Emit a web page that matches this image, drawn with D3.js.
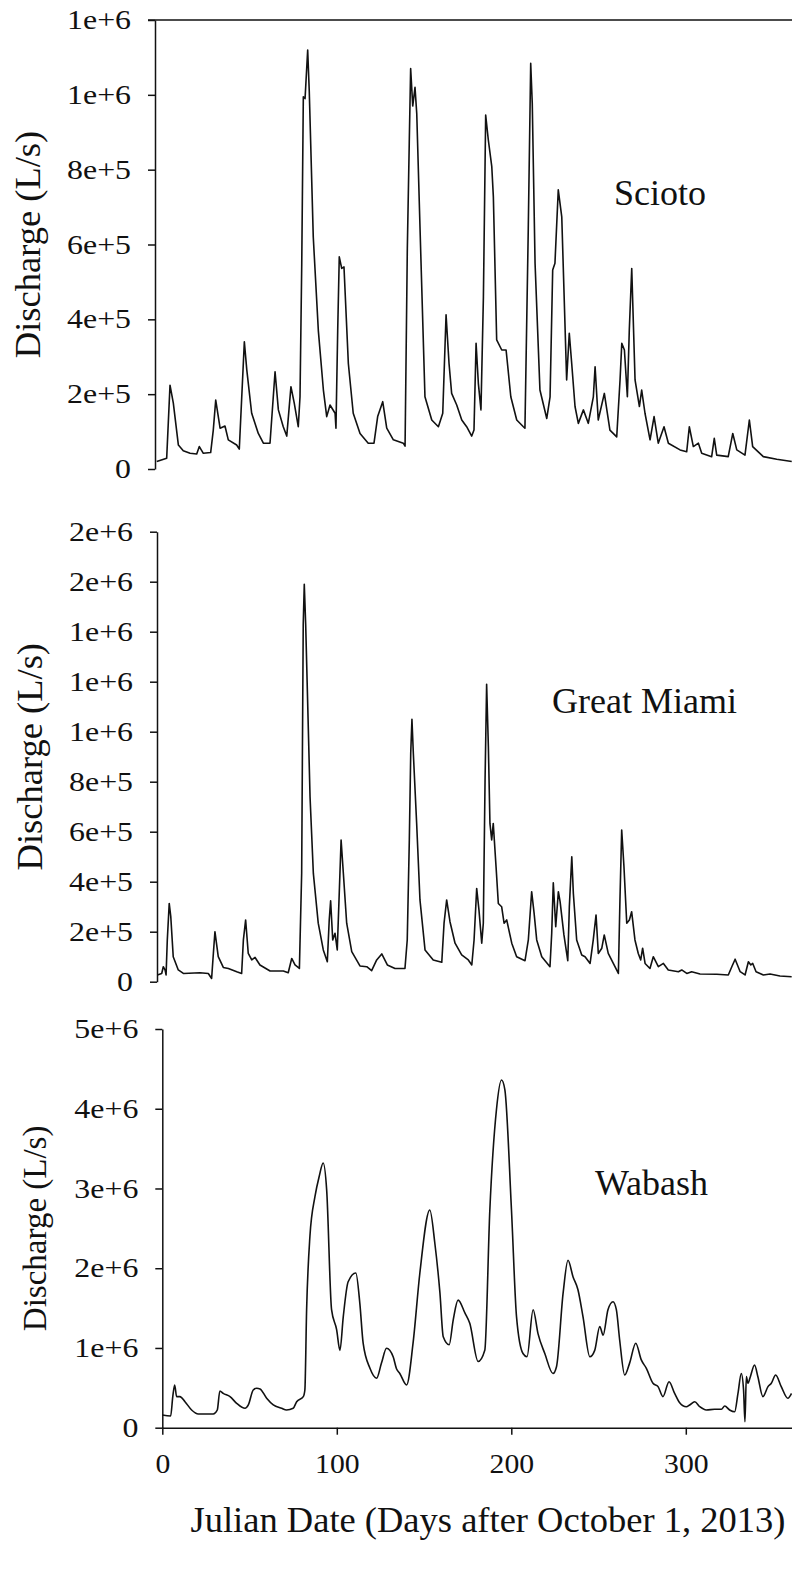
<!DOCTYPE html>
<html>
<head>
<meta charset="utf-8">
<title>River discharge, Oct 2013 - Sep 2014</title>
<script src="https://cdn.jsdelivr.net/npm/d3@7"></script>
<style>
	body { margin: 0; background: #fff; }
	svg { display: block; background: #fff; }
	text { font-family: "Liberation Serif", "Times New Roman", serif; fill: #111; }
	.flow { fill: none; stroke: #111; stroke-width: 1.6px; stroke-linejoin: round; }
	.axis path, .axis line, .frame { stroke: #111; stroke-width: 1.5px; fill: none; }
</style>
</head>
<body>

<svg id="chart" width="792" height="1594"></svg>

<script>
// days after Oct 1 2013 / discharge in L/s

var sciotoDay = [1, 6.7, 8.6, 10.5, 13.4, 16.2, 20.1, 23.9, 25.4, 27.7, 31.9, 33.4, 34.8, 37.3, 40.1, 42,
	46.8, 48.3, 51.2, 52.6, 55.4, 59.2, 62.1, 65.9, 68.8, 70.7, 73.5, 75.5, 77.9, 79.8, 82.1, 83.1,
	84.1, 85, 86, 87.5, 88.4, 90.7, 93.6, 96.5, 98.4, 100.3, 103.2, 103.7, 104.7, 105.6, 107, 108.3,
	110.8, 113.6, 117.5, 122.2, 125.5, 127.6, 130.5, 132.8, 136.6, 142.3, 143.3, 144.6, 145.7, 146.5,
	147.7, 149, 150, 151.9, 154.7, 158.6, 162.4, 164.9, 166.8, 168.5, 170, 172.9, 175.8, 178.6, 181.5,
	182.8, 184, 185.3, 186.8, 188.2, 189.5, 191, 193, 193.9, 195.8, 198.7, 201.2, 203.9, 207.3, 211.1,
	212, 213.9, 215.3, 216.2, 217.8, 220.6, 224.5, 226.4, 227.9, 229.2, 231.1, 233.1, 235.9, 237.4,
	238.8, 240.7, 242.6, 245.5, 248.3, 251.2, 252.2, 254, 257.5, 260.7, 264.6, 266.5, 267.5, 269,
	270.7, 271.8, 273.2, 275.1, 277.6, 278.9, 280.8, 283.7, 286, 288.4, 291.7, 294.2, 300.9, 304.7,
	306.2, 308.5, 311.4, 313.3, 319, 320.5, 321.9, 328.5, 331.1, 333.4, 338.1, 340.6, 342.5, 348.6,
	356.3, 364.9];
var sciotoQ = [20000, 29000, 224000, 176000, 64000, 49000, 42000, 40000, 60000, 42000, 44000, 104000, 184000, 109000, 115000, 78000,
	64000, 53000, 340000, 265000, 149000, 95000, 69000, 69000, 260000, 158000, 113000, 88000, 220000, 176000, 113000, 193000,
	550000, 995000, 990000, 1120000, 1010000, 620000, 370000, 211000, 140000, 171000, 149000, 109000, 370000, 567000, 536000, 540000,
	282000, 149000, 95000, 69000, 69000, 140000, 180000, 109000, 78000, 69000, 61000, 590000, 870000, 1070000,
	970000, 1020000, 950000, 640000, 193000, 131000, 113000, 149000, 412000, 282000, 202000, 171000, 131000, 113000, 88000,
	104000, 336000, 229000, 158000, 460000, 946000, 880000, 808000, 728000, 345000, 318000, 318000, 193000, 131000, 113000,
	109000, 639000, 1084000, 977000, 550000, 211000, 135000, 193000, 532000, 550000, 746000, 674000, 238000, 363000,
	282000, 167000, 122000, 158000, 122000, 193000, 273000, 131000, 202000, 104000, 86000, 238000, 336000, 318000,
	193000, 371000, 536000, 238000, 167000, 211000, 149000, 78000, 140000, 69000, 113000, 69000, 51000, 46000,
	113000, 60000, 69000, 42000, 33000, 82000, 37000, 33000, 95000, 51000, 37000, 131000, 60000, 33000,
	26000, 20000];

var miamiDay = [0.2, 2.7, 3.6, 4.6, 5.2, 5.9, 7, 7.9, 9.3, 12.2, 15.1, 24.6, 29.4, 31.3, 32.3, 33.2, 35.1,
	38, 40.9, 45.7, 48.5, 49.5, 50.8, 52.3, 54.3, 56.2, 59, 64.8, 72.4, 75.2, 77.2, 79.1, 81.6, 82.9,
	83.8, 84.4, 85.2, 86.4, 87.7, 89.6, 92.4, 95.3, 97.6, 98.7, 99.5, 100.7, 102, 103.3, 104.3, 105.5,
	106.8, 108.7, 111.6, 116.3, 120.2, 123, 125.9, 128.8, 132, 136.4, 142.1, 143.4, 144.6, 145.4, 146.1,
	146.9, 148.8, 150.7, 153.6, 158.3, 163.2, 164.5, 166, 167.9, 170.8, 174.6, 178.4, 180.4, 181.7,
	183.2, 184.5, 186.1, 187, 188, 188.9, 189.9, 190.8, 191.8, 192.7, 194.3, 195.6, 197.5, 198.9, 200.4,
	203.3, 206.1, 210.9, 212.8, 214.7, 216.1, 217.6, 220.5, 225.2, 226.2, 227.1, 228.5, 230, 231, 233.2,
	235.4, 236.3, 237.7, 238.6, 240.5, 243.4, 245.3, 248.2, 250, 251.6, 252.9, 254.9, 256.3, 258.6,
	261.5, 264.4, 265.3, 266.3, 267.6, 269.2, 270.7, 272, 273.9, 275.8, 277.2, 278.3, 279.7, 282.5,
	284.4, 287.3, 290.2, 293, 298.8, 300.7, 303.6, 306.4, 311.2, 320.8, 327.4, 329.4, 331.3, 334.2,
	337, 338.9, 340.3, 341.4, 343.3, 347.5, 351.3, 357, 363.7];
var miamiQ = [27000, 33000, 60000, 47000, 27000, 167000, 313000, 260000, 100000, 47000, 33000, 36000, 33000, 13000, 113000, 200000, 100000,
	57000, 53000, 40000, 33000, 167000, 247000, 113000, 87000, 97000, 67000, 43000, 43000, 36000, 93000, 67000, 53000, 433000,
	1430000, 1590000, 1430000, 1100000, 740000, 433000, 234000, 127000, 80000, 247000, 324000, 167000, 194000, 127000, 327000, 567000,
	433000, 234000, 120000, 63000, 60000, 44000, 87000, 111000, 67000, 53000, 53000, 167000, 567000, 913000, 1050000,
	913000, 633000, 327000, 127000, 87000, 78000, 234000, 327000, 240000, 154000, 107000, 87000, 67000, 167000,
	373000, 287000, 154000, 234000, 807000, 1190000, 940000, 633000, 567000, 633000, 460000, 313000, 300000, 234000, 247000,
	154000, 100000, 84000, 167000, 360000, 274000, 167000, 100000, 60000, 194000, 396000, 220000, 360000, 320000, 187000,
	84000, 300000, 500000, 353000, 167000, 107000, 100000, 73000, 167000, 267000, 113000, 134000, 187000, 113000,
	73000, 33000, 327000, 607000, 460000, 234000, 247000, 280000, 167000, 113000, 87000, 134000, 73000, 53000,
	100000, 60000, 73000, 47000, 40000, 47000, 33000, 40000, 31000, 30000, 27000, 60000, 90000, 40000,
	27000, 80000, 67000, 73000, 40000, 27000, 31000, 23000, 20000];

var wabashDay = [0, 4.8, 6, 7.1, 8.2, 10.1, 13, 16.8, 20.6, 29.2, 31.5, 33, 34.9, 38.8, 42.6, 47.4, 49.3,
	52.1, 54.1, 56, 59.8, 63.6, 68.4, 71.2, 75, 77, 80.8, 81.7, 82.7, 84.6, 87.5, 89.9, 92.2, 94.2, 97,
	99.9, 101.8, 103.7, 106.5, 110.9, 113.2, 115.1, 119, 122.8, 125.6, 128.5, 132.3, 134.2, 136.1, 140,
	143.7, 147.6, 153.3, 156.2, 159.1, 161, 164.4, 166.7, 169.5, 173.4, 176.2, 181, 184.8, 187.7, 191.5,
	194.4, 196.3, 200.1, 203, 206.7, 209, 212.5, 215.3, 219.2, 223.9, 225.9, 229.7, 232.5, 235.4, 238.2,
	241.1, 245, 247.8, 250.7, 252.6, 255.4, 258.3, 260.2, 262.1, 265, 267.8, 271.3, 274.5, 277.4, 281.2,
	284.1, 286.9, 290.4, 293.6, 296.5, 300.3, 302.2, 305.1, 308, 311.8, 316.5, 320.4, 322.3, 325.1, 328,
	329.9, 331.8, 333.1, 333.9, 334.7, 335.6, 337, 339.4, 341.3, 344.2, 347.1, 349, 351.5, 354.7, 358.5,
	360.6];
var wabashQ = [160000, 147000, 390000, 536000, 390000, 390000, 326000, 222000, 172000, 172000, 222000, 460000, 430000, 390000, 306000, 243000, 285000,
	473000, 494000, 486000, 369000, 285000, 243000, 222000, 243000, 326000, 390000, 473000, 1480000, 2400000, 2900000, 3150000, 3320000, 2980000, 1480000,
	1230000, 970000, 1390000, 1830000, 1940000, 1560000, 1060000, 745000, 620000, 810000, 996000, 890000, 740000, 680000, 536000,
	1060000, 1940000, 2730000, 2310000, 1690000, 1140000, 1040000, 1350000, 1600000, 1440000, 1310000, 830000, 970000, 2730000, 3990000,
	4360000, 4240000, 2730000, 1390000, 930000, 890000, 1480000, 1180000, 930000, 680000, 765000, 1690000, 2100000, 1890000, 1730000,
	1390000, 890000, 970000, 1270000, 1160000, 1480000, 1580000, 1480000, 1100000, 660000, 810000, 1060000, 850000, 745000, 557000,
	515000, 390000, 577000, 430000, 314000, 263000, 285000, 326000, 263000, 222000, 231000, 231000, 272000, 222000, 200000,
	430000, 680000, 473000, 75000, 640000, 557000, 640000, 787000, 640000, 390000, 515000, 557000, 660000, 515000, 369000,
	430000];

var sciotoTicks = [0, 200000, 400000, 600000, 800000, 1000000, 1200000];
var miamiTicks = [0, 200000, 400000, 600000, 800000, 1000000, 1200000, 1400000, 1600000, 1800000];
var wabashTicks = [0, 1000000, 2000000, 3000000, 4000000, 5000000];
var dayTicks = [0, 100, 200, 300];

var rivers = ['Scioto', 'Great Miami', 'Wabash'];

var W = 792, H = 1594,
	pxPerDay = 1.745,
	tickFont = 27,
	tickStretch = 1.18;

// the Wabash trace is a smooth daily series in the original, the other two are spiky
var panels = [
	{name: rivers[0], day: sciotoDay, q: sciotoQ, ticks: sciotoTicks, curve: d3.curveLinear,
		left: 155, top: 20, bottom: 469, nameX: 614, nameY: 205, titleX: 40, titleSize: 36.5, frame: true},
	{name: rivers[1], day: miamiDay, q: miamiQ, ticks: miamiTicks, curve: d3.curveLinear,
		left: 157, top: 531.7, bottom: 981.7, nameX: 552, nameY: 713, titleX: 42, titleSize: 36.5},
	{name: rivers[2], day: wabashDay, q: wabashQ, ticks: wabashTicks, curve: d3.curveMonotoneX,
		left: 162.3, top: 1029, bottom: 1427.7, nameX: 595, nameY: 1195, titleX: 46, titleSize: 33, xAxis: true}
];

var svg = d3.select('#chart');

function fmt(d) {
	return d === 0 ? '0' : d3.format('.0e')(d);
}

panels.forEach(function(p) {
	var x = d3.scaleLinear()
		.domain([0, 365])
		.range([p.left, p.left + 365 * pxPerDay]);
	var y = d3.scaleLinear()
		.domain([0, d3.max(p.ticks)])
		.range([p.bottom, p.top]);

	var g = svg.append('g').classed('panel', true);

	if (p.frame) {
		g.append('line')
			.classed('frame', true)
			.attr('x1', p.left - 7).attr('x2', W)
			.attr('y1', y(d3.max(p.ticks))).attr('y2', y(d3.max(p.ticks)));
	}

	var ya = g.append('g')
		.classed('axis', true)
		.attr('transform', 'translate(' + p.left + ',0)')
		.call(d3.axisLeft(y).tickValues(p.ticks).tickSize(7).tickSizeOuter(0).tickFormat(fmt));
	ya.attr('font-family', null);
	ya.selectAll('text')
		.attr('font-size', tickFont)
		.attr('x', -24 / tickStretch)
		.attr('transform', 'scale(' + tickStretch + ',1)');

	if (p.xAxis) {
		var xa = g.append('g')
			.classed('axis', true)
			.attr('transform', 'translate(0,' + p.bottom + ')')
			.call(d3.axisBottom(x).tickValues(dayTicks).tickSize(7).tickSizeOuter(0));
		xa.attr('font-family', null);
		xa.selectAll('text')
			.attr('font-size', tickFont)
			.attr('y', 45).attr('dy', 0)
			.attr('transform', 'scale(1.1,1)');
	}

	var pts = p.day.map(function(d, i) { return [d, p.q[i]]; });
	var line = d3.line()
		.curve(p.curve)
		.x(function(d) { return x(d[0]); })
		.y(function(d) { return y(d[1]); });

	g.append('path')
		.datum(pts)
		.classed('flow', true)
		.attr('d', line);

	g.append('text')
		.text(p.name)
		.attr('x', p.nameX)
		.attr('y', p.nameY)
		.attr('font-size', 36);

	g.append('text')
		.text('Discharge (L/s)')
		.attr('text-anchor', 'middle')
		.attr('font-size', p.titleSize)
		.attr('transform', 'translate(' + p.titleX + ',' + ((p.top + p.bottom) / 2) + ') rotate(-90)');
});

svg.append('text')
	.text('Julian Date (Days after October 1, 2013)')
	.attr('x', 488)
	.attr('y', 1532)
	.attr('text-anchor', 'middle')
	.attr('font-size', 36.5);

</script>
</body>
</html>
